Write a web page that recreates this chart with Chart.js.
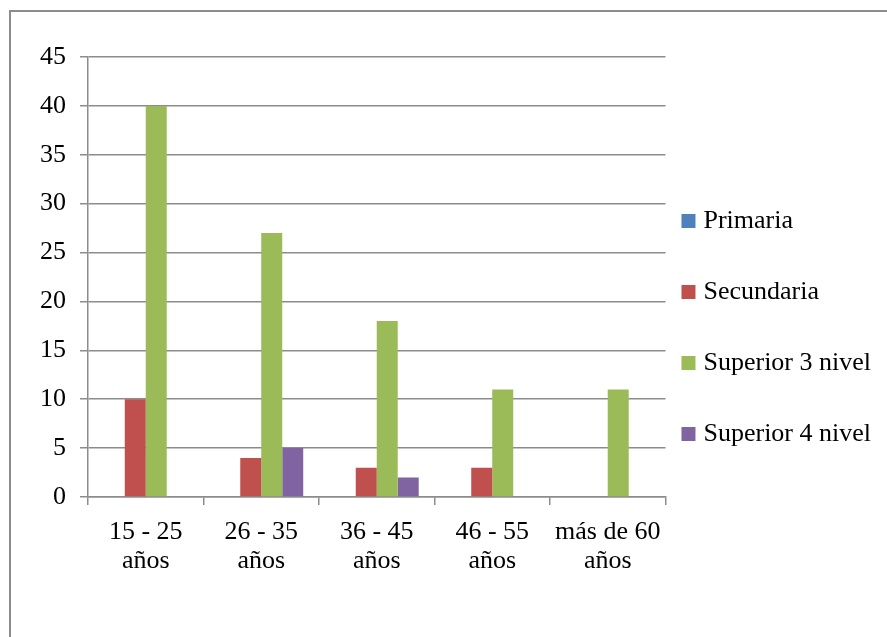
<!DOCTYPE html>
<html>
<head>
<meta charset="utf-8">
<script src="https://cdn.jsdelivr.net/npm/chart.js@4.4.1/dist/chart.umd.min.js"></script>
<style>
html, body { margin: 0; padding: 0; background: #fff; overflow: hidden; }
#wrap { position: relative; width: 887px; height: 637px; }
#frame { position: absolute; left: 9px; top: 10px; width: 1000px; height: 1000px; border: 2px solid #8c8c8c; }
canvas { position: absolute; left: 0; top: 0; }
</style>
</head>
<body>
<div id="wrap">
  <div id="frame"></div>
  <canvas id="barChart" width="887" height="637"></canvas>
</div>
<script>
// categories and values
var categories = [["15 - 25", "años"], ["26 - 35", "años"], ["36 - 45", "años"], ["46 - 55", "años"], ["más de 60", "años"]];
var primaria = [0, 0, 0, 0, 0];
var secundaria = [10, 4, 3, 3, 0];
var superior3 = [40, 27, 18, 11, 11];
var superior4 = [0, 5, 2, 0, 0];
var yTicks = [0, 5, 10, 15, 20, 25, 30, 35, 40, 45];

var serif = "'Liberation Serif', 'Times New Roman', serif";
var gray = '#8c8c8c';

var ctx = document.getElementById("barChart").getContext('2d');
var myBarChart = new Chart(ctx, {
  type: 'bar',
  data: {
    labels: categories,
    datasets: [
      { label: "Primaria", data: primaria, backgroundColor: '#4F81BD' },
      { label: "Secundaria", data: secundaria, backgroundColor: '#C0504D' },
      { label: "Superior 3 nivel", data: superior3, backgroundColor: '#9BBB59' },
      { label: "Superior 4 nivel", data: superior4, backgroundColor: '#8064A2' }
    ]
  },
  options: {
    responsive: false,
    animation: false,
    datasets: {
      bar: { categoryPercentage: 0.727, barPercentage: 1.0, borderWidth: 0 }
    },
    layout: {
      padding: { left: 10, top: 57, right: 6, bottom: 15 }
    },
    plugins: {
      tooltip: { enabled: false },
      legend: {
        position: 'right',
        align: 'center',
        labels: {
          color: '#000',
          font: { family: serif, size: 26, lineHeight: 1.923 },
          usePointStyle: true,
          pointStyle: 'rect',
          boxWidth: 4,
          boxHeight: 14,
          padding: 21,
          generateLabels: function (chart) {
            var items = Chart.defaults.plugins.legend.labels.generateLabels(chart);
            items.forEach(function (it) { it.text = [it.text]; it.pointStyle = 'rect'; });
            return items;
          }
        }
      }
    },
    scales: {
      x: {
        afterFit: function (scale) { scale.height = 125; },
        grid: {
          drawOnChartArea: false,
          drawTicks: true,
          tickLength: 8,
          color: gray,
          lineWidth: 1.5
        },
        border: { color: gray, width: 1.5 },
        ticks: {
          color: '#000',
          padding: 13,
          maxRotation: 0,
          autoSkip: false,
          font: { family: serif, size: 26, lineHeight: 1.1 }
        }
      },
      y: {
        min: 0,
        max: 45,
        afterFit: function (scale) { scale.width = 78; },
        afterBuildTicks: function (scale) {
          scale.ticks = yTicks.map(function (v) { return { value: v }; });
        },
        grid: {
          color: gray,
          lineWidth: 1.5,
          tickLength: 8
        },
        border: { color: gray, width: 1.5 },
        ticks: {
          color: '#000',
          padding: 14,
          font: { family: serif, size: 26 }
        }
      }
    }
  }
});
</script>
</body>
</html>
